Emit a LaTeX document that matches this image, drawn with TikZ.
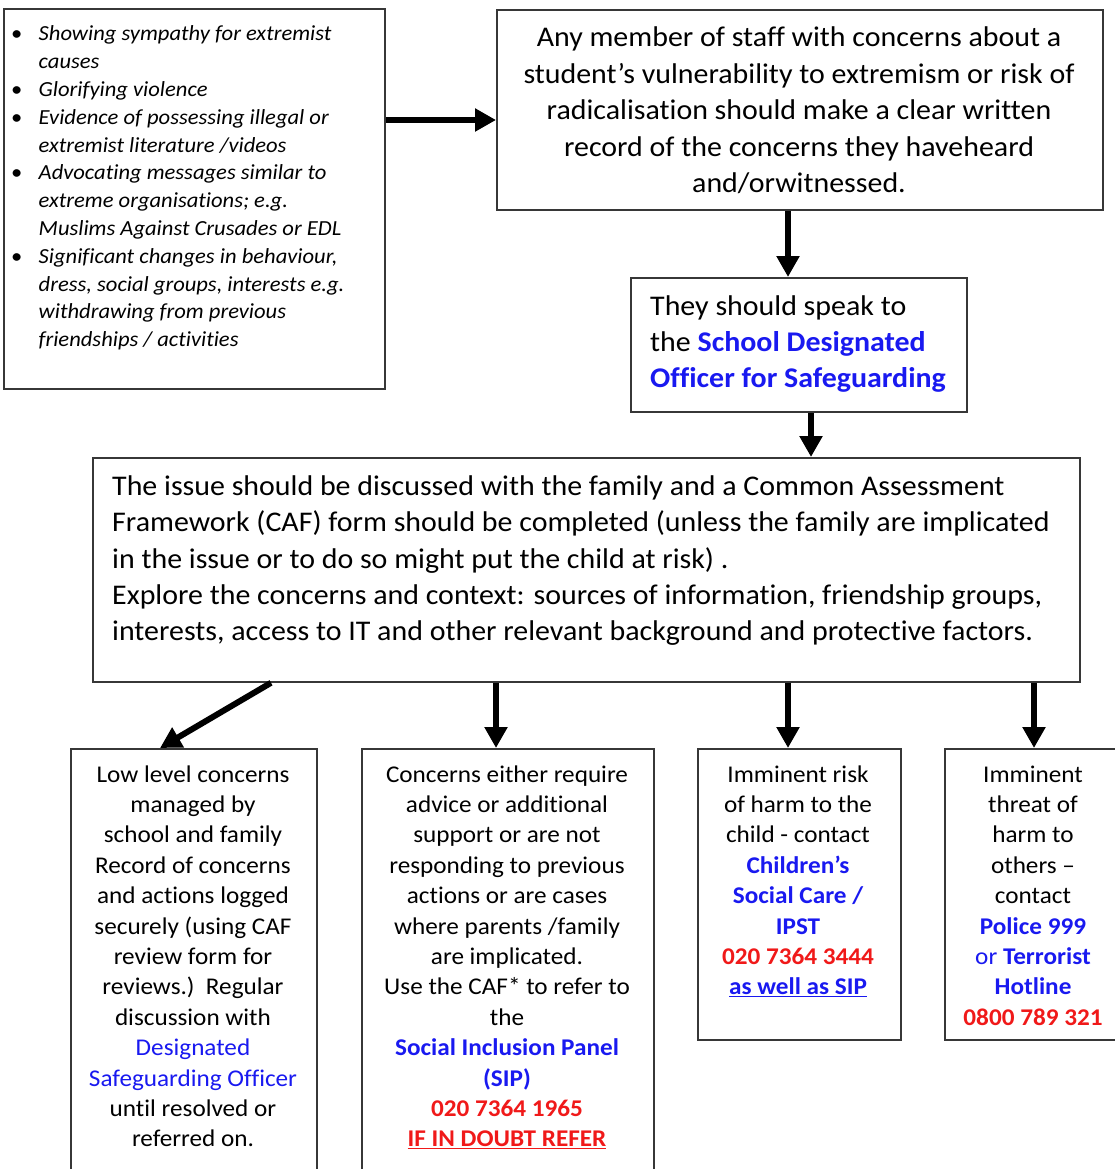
\documentclass[tikz,border=0pt]{standalone}
\usepackage{fontspec}
\setmainfont{Carlito}[FakeStretch=1.05, Ligatures=NoCommon]
\usetikzlibrary{arrows.meta}
\definecolor{lnk}{RGB}{25,25,240}
\definecolor{alert}{RGB}{240,25,25}
\definecolor{edge}{RGB}{55,55,55}
\tikzset{
  box/.style={draw=edge, line width=1.8pt, rectangle, inner sep=0pt, anchor=north west},
  arr/.style={line width=6pt, -{Triangle[width=22pt,length=21pt]}},
  txt/.style={inner sep=0pt, anchor=north},
  big/.style={font=\fontsize{28.5}{36.4}\selectfont},
  small/.style={font=\fontsize{24}{30.4}\selectfont, align=center},
}
\newcommand{\bl}[1]{{\bfseries\color{lnk}#1}}
\newcommand{\bn}[1]{{\color{lnk}#1}}
\newcommand{\rd}[1]{{\bfseries\color{alert}#1}}
\newcommand{\bu}{\makebox[27.5pt][l]{\upshape\textbullet}}
\newcommand{\ind}{\hspace*{27.5pt}}
\begin{document}
\begin{tikzpicture}[x=1pt,y=-1pt]
\useasboundingbox[fill=white] (0,0) rectangle (1114,1169);
% boxes
\node[box, minimum width=381, minimum height=380] (tl) at (3,8) {};
\node[box, minimum width=606, minimum height=200] (tr) at (496,9) {};
\node[box, minimum width=336, minimum height=134] (sp) at (630,277) {};
\node[box, minimum width=987, minimum height=224] (mid) at (92,457) {};
\node[box, minimum width=246, minimum height=450] (b1) at (70,748) {};
\node[box, minimum width=292, minimum height=450] (b2) at (361,748) {};
\node[box, minimum width=203, minimum height=291] (b3) at (697,748) {};
\node[box, minimum width=200, minimum height=291] (b4) at (944,748) {};
% texts
\node[txt, anchor=north west, align=left, font=\fontsize{21.5}{27.8}\selectfont\itshape] (tltxt) at (11,21.2)
 {\strut\bu Showing sympathy for extremist\\
  \ind causes\\
  \bu Glorifying violence\\
  \bu Evidence of possessing illegal or\\
  \ind extremist literature /videos\\
  \bu Advocating messages similar to\\
  \ind extreme organisations; e.g.\\
  \ind Muslims Against Crusades or EDL\\
  \bu Significant changes in behaviour,\\
  \ind dress, social groups, interests e.g.\\
  \ind withdrawing from previous\\
  \ind friendships / activities};
\node[txt, big, align=center] (trtxt) at (799,21.2)
 {\strut Any member of staff with concerns about a\\
  student’s vulnerability to extremism or risk of\\
  radicalisation should make a clear written\\
  record of the concerns they haveheard\\
  and/orwitnessed.};
\node[txt, big, anchor=north west, align=left] (sptxt) at (650,289.5)
 {\strut They should speak to\\
  the \bl{School Designated}\\
  \bl{Officer for Safeguarding}};
\node[txt, big, anchor=north west, align=left] (midtxt) at (112,469.6)
 {\strut The issue should be discussed with the family and a Common Assessment\\
  Framework (CAF) form should be completed (unless the family are implicated\\
  in the issue or to do so might put the child at risk) .\\
  Explore the concerns and context: sources of information, friendship groups,\\
  interests, access to IT and other relevant background and protective factors.};
\node[txt, small] (b1txt) at (193,760.7)
 {\strut Low level concerns\\ managed by\\ school and family\\ Record of concerns\\
  and actions logged\\ securely (using CAF\\ review form for\\ reviews.)\ \ Regular\\
  discussion with\\ \bn{Designated}\\ \bn{Safeguarding Officer}\\ until resolved or\\ referred on.};
\node[txt, small] (b2txt) at (507,760.7)
 {\strut Concerns either require\\ advice or additional\\ support or are not\\
  responding to previous\\ actions or are cases\\ where parents /family\\ are implicated.\\
  Use the CAF* to refer to\\ the\\ \bl{Social Inclusion Panel}\\ \bl{(SIP)}\\
  \rd{020 7364 1965}\\ \rd{\underline{IF IN DOUBT REFER}}};
\node[txt, small] (b3txt) at (798,760.7)
 {\strut Imminent risk\\ of harm to the\\ child - contact\\ \bl{Children’s}\\
  \bl{Social Care /}\\ \bl{IPST}\\ \rd{020 7364 3444}\\ \bl{\underline{as well as SIP}}};
\node[txt, small] (b4txt) at (1033,760.7)
 {\strut Imminent\\ threat of\\ harm to\\ others –\\ contact\\ \bl{Police 999}\\
  \bn{or} \bl{Terrorist}\\ \bl{Hotline}\\ \rd{0800 789 321}};
% arrows
\draw[arr] (tl.east |- 0,120) -- (tr.west |- 0,120);
\draw[arr] (tr.south -| 788,0) -- (sp.north -| 788,0);
\draw[arr] (sp.south -| 811,0) -- (mid.north -| 811,0);
\draw[arr] (mid.south -| 271,0) -- (b1.north -| 160,0);
\draw[arr] (mid.south -| 496,0) -- (b2.north -| 496,0);
\draw[arr] (mid.south -| 788,0) -- (b3.north -| 788,0);
\draw[arr] (mid.south -| 1034,0) -- (b4.north -| 1034,0);
\end{tikzpicture}
\end{document}
